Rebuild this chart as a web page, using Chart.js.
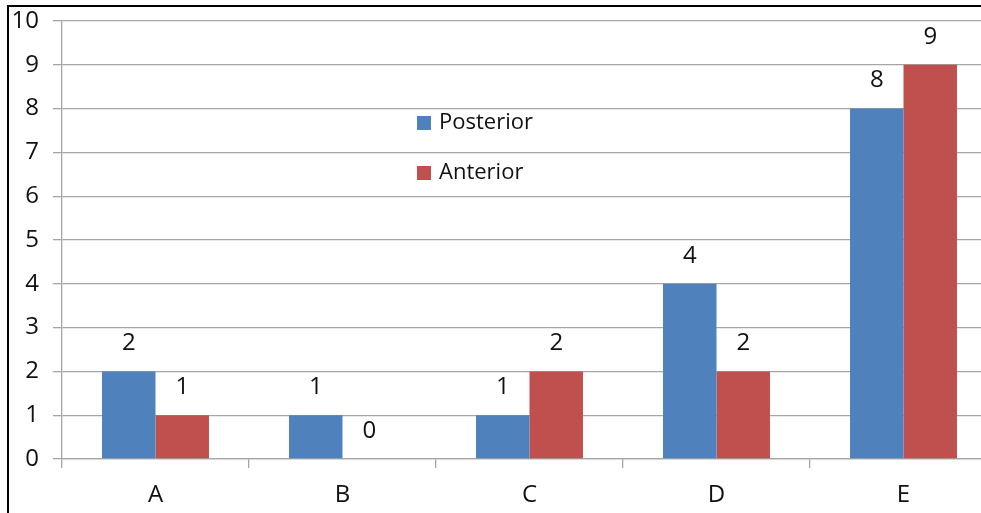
<!DOCTYPE html>
<html>
<head>
<meta charset="utf-8">
<script src="https://cdn.jsdelivr.net/npm/chart.js@4/dist/chart.umd.min.js"></script>
<style>
  html, body { margin: 0; padding: 0; background: #fff; overflow: hidden; }
  #wrap { position: relative; width: 981px; height: 513px; overflow: hidden; }
  #frame { position: absolute; left: 7px; top: 5px; width: 1000px; height: 520px;
           border-top: 2px solid #000; border-left: 2px solid #000; pointer-events: none; }
  canvas { position: absolute; left: 0; top: 0; }
</style>
</head>
<body>
<div id="wrap">
  <canvas id="c" width="1000" height="513"></canvas>
  <div id="frame"></div>
</div>
<script>
// Group names along the x axis
const categories = ['A', 'B', 'C', 'D', 'E'];
// Counts per group
const posterior = [2, 1, 1, 4, 8];
const anterior = [1, 0, 2, 2, 9];
// Value axis
const yTicks = [0, 1, 2, 3, 4, 5, 6, 7, 8, 9, 10];

const FONT = "'Open Sans', sans-serif";
const GRID = '#a6a6a6';

// Writes each bar's value above it
const valueLabels = {
  id: 'valueLabels',
  afterDatasetsDraw(chart) {
    const ctx = chart.ctx;
    ctx.save();
    ctx.font = `24px ${FONT}`;
    ctx.fillStyle = '#111';
    ctx.textAlign = 'center';
    ctx.textBaseline = 'middle';
    chart.data.datasets.forEach((ds, i) => {
      chart.getDatasetMeta(i).data.forEach((bar, j) => {
        ctx.fillText(String(ds.data[j]), bar.x, bar.y - 28);
      });
    });
    ctx.restore();
  }
};

// Stacked legend floating inside the plot
const floatLegend = {
  id: 'floatLegend',
  afterDraw(chart, args, opts) {
    const ctx = chart.ctx;
    ctx.save();
    ctx.font = `22px ${FONT}`;
    ctx.textBaseline = 'middle';
    ctx.textAlign = 'left';
    chart.data.datasets.forEach((ds, i) => {
      const cy = opts.y + i * opts.gap;
      ctx.fillStyle = ds.backgroundColor;
      ctx.fillRect(opts.x, cy - 7, 14, 14);
      ctx.fillStyle = '#111';
      ctx.fillText(ds.label, opts.x + 22, cy);
    });
    ctx.restore();
  }
};

new Chart(document.getElementById('c'), {
  type: 'bar',
  data: {
    labels: categories,
    datasets: [
      { label: 'Posterior', data: posterior, backgroundColor: '#4f81bd' },
      { label: 'Anterior', data: anterior, backgroundColor: '#c0504d' }
    ]
  },
  options: {
    responsive: false,
    animation: false,
    events: [],
    layout: { padding: { left: 0, right: 3, top: 21, bottom: 0 } },
    datasets: { bar: { categoryPercentage: 0.572, barPercentage: 1.0 } },
    plugins: {
      legend: { display: false },
      tooltip: { enabled: false },
      floatLegend: { x: 417, y: 123, gap: 50 }
    },
    scales: {
      x: {
        grid: { offset: true, drawOnChartArea: false, color: GRID, tickLength: 9, lineWidth: 1.3 },
        border: { color: GRID, width: 1.3 },
        ticks: { color: '#111', font: { family: FONT, size: 24 }, padding: 13 },
        afterFit(scale) { scale.height = 54; }
      },
      y: {
        min: 0, max: 10,
        afterBuildTicks(scale) { scale.ticks = yTicks.map(v => ({ value: v })); },
        grid: { color: GRID, tickLength: 9, lineWidth: 1.3 },
        border: { color: GRID, width: 1.3 },
        ticks: { color: '#111', font: { family: FONT, size: 24 }, padding: 14 },
        afterFit(scale) {
          scale.width = 62;
          scale.paddingTop = 0;
          scale.paddingBottom = 0;
        }
      }
    }
  },
  plugins: [valueLabels, floatLegend]
});
</script>
</body>
</html>
